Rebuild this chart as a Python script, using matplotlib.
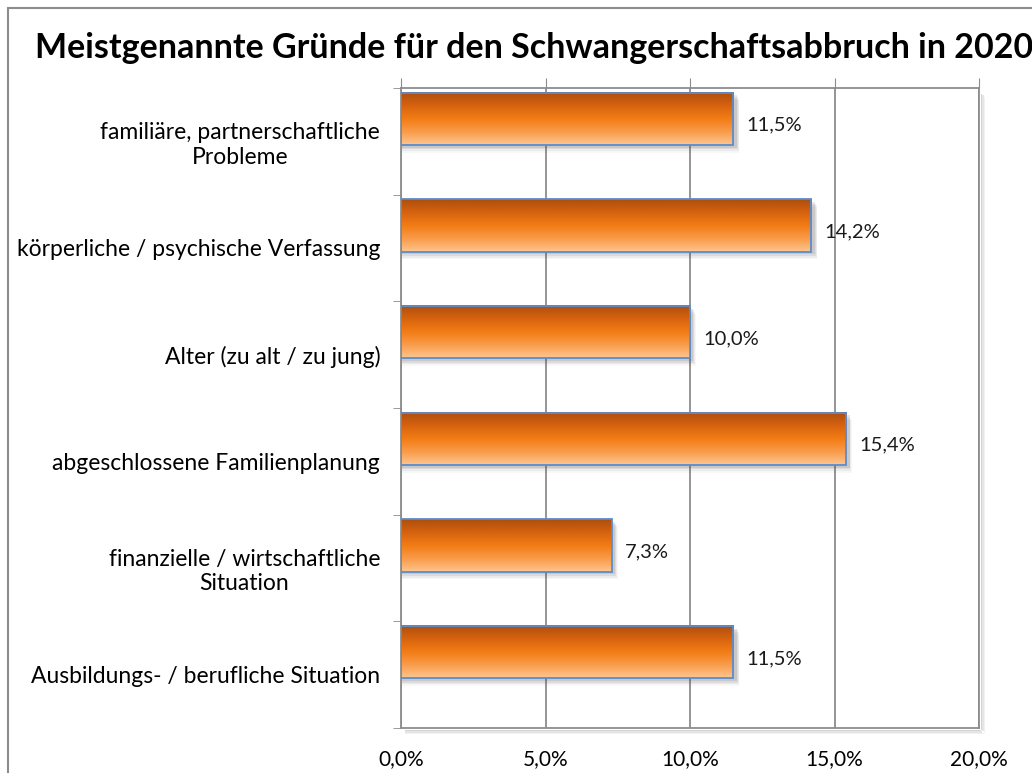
import numpy as np
import matplotlib.pyplot as plt
from matplotlib.patches import Rectangle
from matplotlib.colors import LinearSegmentedColormap

categories = [
    "familiäre, partnerschaftliche\nProbleme",
    "körperliche / psychische Verfassung",
    "Alter (zu alt / zu jung)",
    "abgeschlossene Familienplanung",
    "finanzielle / wirtschaftliche\nSituation",
    "Ausbildungs- / berufliche Situation",
]
values = [11.5, 14.2, 10.0, 15.4, 7.3, 11.5]
value_labels = ["11,5%", "14,2%", "10,0%", "15,4%", "7,3%", "11,5%"]
x_ticks = [0, 5, 10, 15, 20]
x_tick_labels = ["0,0%", "5,0%", "10,0%", "15,0%", "20,0%"]

plt.rcParams['font.family'] = ['Lato', 'DejaVu Sans']

fig = plt.figure(figsize=(10.32, 7.73), dpi=100)
W, H = 1032, 773

# outer chart border
fig.patches.append(Rectangle((8 / W, -0.1), 1.2, 1 - 8 / H + 0.1, transform=fig.transFigure,
                             fill=False, edgecolor='#8c8c8c', linewidth=1.5))

ax = fig.add_axes([401 / W, 1 - 728 / H, (979 - 401) / W, (728 - 88) / H])

# orange gradient: dark top -> bright middle -> light bottom
cmap = LinearSegmentedColormap.from_list(
    'bar', ['#ad4e0f', '#d6620f', '#f27c15', '#f99c4a', '#fdc690'])
grad = np.linspace(0, 1, 256).reshape(-1, 1)

bar_h = 0.49
offset = -0.21
for i, v in enumerate(values):
    yc = i + offset
    y0, y1 = yc - bar_h / 2, yc + bar_h / 2
    # soft shadow under bar
    for k, a in enumerate([0.12, 0.09, 0.06, 0.04]):
        d = 0.015 * (k + 1)
        ax.add_patch(Rectangle((0.05, y0 + d + 0.01), v + 0.04 + d * 2, bar_h, facecolor='#404040',
                               edgecolor='none', alpha=a, zorder=2))
    ax.imshow(grad, cmap=cmap, aspect='auto', extent=[0, v, y1, y0], zorder=3,
              interpolation='bilinear')
    ax.add_patch(Rectangle((0, y0), v, bar_h, fill=False, edgecolor='#5b8cce',
                           linewidth=1.3, zorder=4))
    ax.text(v + 0.45, yc + 0.06, value_labels[i], va='center', ha='left',
            fontsize=14.5, color='#1a1a1a', zorder=5)

ax.set_xlim(0, 20)
ax.set_ylim(len(categories) - 0.5, -0.5)

ax.set_xticks(x_ticks)
ax.set_xticklabels(x_tick_labels, fontsize=15)
ax.tick_params(axis='x', top=True, bottom=False, labeltop=False, labelbottom=True,
               direction='out', length=7, color='#8c8c8c', pad=8)

ax.set_yticks(range(len(categories)))
ax.set_yticklabels(categories, fontsize=16.5, ha='right', multialignment='center',
                   linespacing=1.2)
ax.set_yticks(np.arange(-0.5, len(categories), 1), minor=True)
ax.tick_params(axis='y', which='major', length=0, pad=15)
ax.tick_params(axis='y', which='minor', length=6, color='#8c8c8c', direction='out')

ax.grid(axis='x', color='#8c8c8c', linewidth=1.3, zorder=1)
ax.set_axisbelow(True)
for s in ax.spines.values():
    s.set_color('#8c8c8c')
    s.set_linewidth(1.3)

# shadow on right and bottom of plot frame
for k, a in enumerate([0.25, 0.15, 0.08]):
    d = (k + 1) * 1.5
    fig.patches.append(Rectangle(((979 + d) / W, 1 - (728 + d) / H), 1.5 / W, (728 - 92) / H,
                                 transform=fig.transFigure, facecolor='#555555',
                                 edgecolor='none', alpha=a))
    fig.patches.append(Rectangle(((405) / W, 1 - (728 + d + 1.5) / H), (979 - 405 + d) / W, 1.5 / H,
                                 transform=fig.transFigure, facecolor='#555555',
                                 edgecolor='none', alpha=a))

fig.text(35 / W, 1 - 48 / H, "Meistgenannte Gründe für den Schwangerschaftsabbruch in 2020",
         fontsize=24.5, fontweight='bold', ha='left', va='center', color='#000000')

fig.savefig('out.png', dpi=100)
